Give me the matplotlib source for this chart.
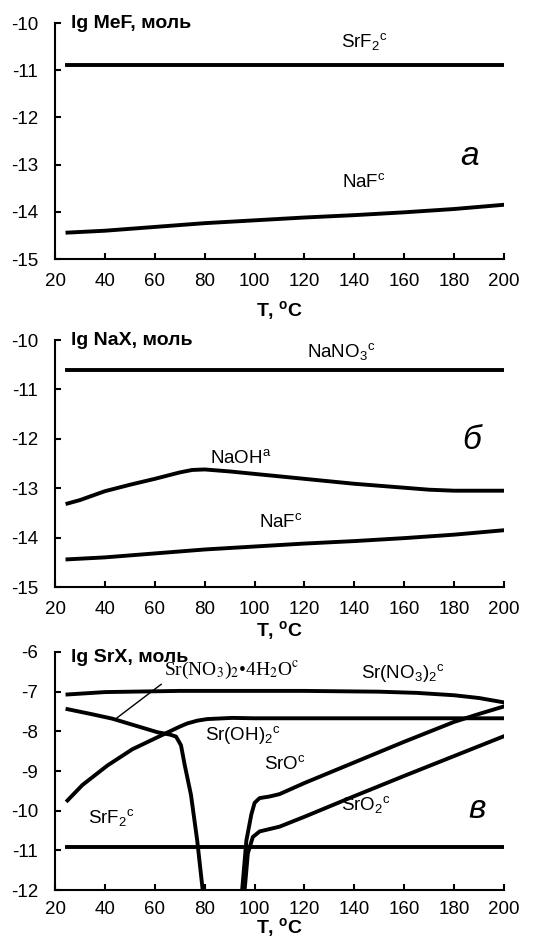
import numpy as np
import matplotlib
matplotlib.use('Agg')
import matplotlib.pyplot as plt

##############################
#    data
##############################
# panel a / b : NaF and constant SrF2, NaNO3
t_naf = [25, 40, 60, 80, 100, 120, 140, 160, 180, 200]
naf = [-14.44, -14.40, -14.32, -14.24, -14.18, -14.12, -14.07, -14.01, -13.94, -13.85]

t_const = [25, 200]
srf2 = [-10.9, -10.9]
nano3 = [-10.6, -10.6]

t_naoh = [25, 30, 40, 50, 60, 70, 75, 80, 90, 100, 120, 140, 160, 170, 180, 190, 200]
naoh = [-13.31, -13.24, -13.06, -12.93, -12.81, -12.68, -12.63, -12.62, -12.66, -12.71,
        -12.81, -12.91, -12.99, -13.03, -13.05, -13.05, -13.05]

# panel c
t_srno3 = [25, 40, 70, 120, 150, 165, 180, 190, 200]
srno3 = [-7.07, -7.01, -6.98, -6.98, -7.00, -7.03, -7.09, -7.16, -7.27]

t_srno3h = [25, 35, 43, 52, 61, 66, 68.5, 70.5, 72, 74.5, 77, 79.2]
srno3h = [-7.44, -7.57, -7.68, -7.85, -8.02, -8.08, -8.13, -8.35, -8.85, -9.6, -10.75, -12.0]

t_sroh = [25, 31, 41, 51, 61, 66, 70, 73, 77, 81, 91, 100, 200]
sroh = [-9.74, -9.35, -8.86, -8.45, -8.15, -8.0, -7.88, -7.80, -7.73, -7.69, -7.66, -7.67, -7.67]

t_sro = [95, 96.7, 98.7, 100, 102, 106, 110, 120, 140, 160, 180, 190, 200]
sro = [-12.0, -10.75, -10.09, -9.8, -9.68, -9.64, -9.58, -9.3, -8.78, -8.26, -7.76, -7.56, -7.37]

t_sro2 = [96, 97.3, 99.3, 102, 106, 110, 120, 140, 160, 180, 200]
sro2 = [-12.0, -11.07, -10.66, -10.52, -10.46, -10.4, -10.15, -9.63, -9.12, -8.62, -8.12]

xticks = list(range(20, 201, 20))

##############################
#    style
##############################
plt.rcParams['font.family'] = ['Liberation Sans', 'DejaVu Sans']
plt.rcParams['axes.unicode_minus'] = False
plt.rcParams['mathtext.fontset'] = 'custom'
plt.rcParams['mathtext.rm'] = 'Liberation Sans'
plt.rcParams['mathtext.it'] = 'Liberation Sans:italic'
plt.rcParams['mathtext.bf'] = 'Liberation Sans:bold'
fs_tick = 13.5
fs_lab = 14
fs_sp = 13.5
lw = 2.8

fig = plt.figure(figsize=(5.34, 9.43), dpi=100)
left, width = 0.103, 0.841
ax_a = fig.add_axes([left, 0.7253, width, 0.2503])
ax_b = fig.add_axes([left, 0.3775, width, 0.2619])
ax_c = fig.add_axes([left, 0.0560, width, 0.2526])


def style(ax, ylim, yticks, ylabel, ylab_y, xlab_y, xpad=10):
    ax.set_xlim(20, 200)
    ax.set_ylim(*ylim)
    ax.set_xticks(xticks)
    ax.set_yticks(yticks)
    for s in ['top', 'right']:
        ax.spines[s].set_visible(False)
    for s in ['left', 'bottom']:
        ax.spines[s].set_linewidth(1.5)
    ax.tick_params(direction='in', length=4, width=1.5, labelsize=fs_tick)
    ax.tick_params(axis='x', pad=xpad)
    ax.tick_params(axis='y', pad=12)
    ax.text(0.035, ylab_y, ylabel, transform=ax.transAxes, fontsize=fs_lab,
            fontweight='bold', ha='left', va='center')
    ax.text(0.5, xlab_y, r'T, $^\mathbf{o}$C', transform=ax.transAxes, fontsize=fs_lab,
            fontweight='bold', ha='center', va='center')


# panel a
ax_a.plot(t_const, srf2, color='black', lw=lw)
ax_a.plot(t_naf, naf, color='black', lw=lw)
style(ax_a, (-15, -10), range(-15, -9), 'lg MeF, моль', 1.0, -0.22)
ax_a.text(144, -10.4, r'SrF$_2$$^\mathrm{c}$', fontsize=fs_sp, ha='center', va='center')
ax_a.text(144, -13.36, r'NaF$^\mathrm{c}$', fontsize=fs_sp, ha='center', va='center')
ax_a.text(186, -12.83, 'а', fontsize=24, style='italic', ha='center', va='center')

# panel b
ax_b.plot(t_const, nano3, color='black', lw=lw)
ax_b.plot(t_naoh, naoh, color='black', lw=lw)
ax_b.plot(t_naf, naf, color='black', lw=lw)
style(ax_b, (-15, -10), range(-15, -9), 'lg NaX, моль', 1.0, -0.175)
ax_b.text(134.7, -10.23, r'NaNO$_3$$^\mathrm{c}$', fontsize=fs_sp, ha='center', va='center')
ax_b.text(94.6, -12.38, r'NaOH$^\mathrm{a}$', fontsize=fs_sp, ha='center', va='center')
ax_b.text(110.6, -13.68, r'NaF$^\mathrm{c}$', fontsize=fs_sp, ha='center', va='center')
ax_b.text(187, -12.04, 'б', fontsize=24, style='italic', ha='center', va='center')

# panel c
for t, v in [(t_srno3, srno3), (t_srno3h, srno3h), (t_sroh, sroh),
             (t_sro, sro), (t_sro2, sro2), (t_const, srf2)]:
    ax_c.plot(t, v, color='black', lw=lw)
style(ax_c, (-12, -6), range(-12, -5), 'lg SrX, моль', 0.975, -0.158, xpad=8)
ax_c.annotate(r'Sr(NO$_3$)$_2$•4H$_2$O$^\mathrm{c}$', xy=(44, -7.70), xytext=(90.7, -6.47),
              fontsize=14, family='Liberation Serif', math_fontfamily='stix',
              ha='center', va='center',
              arrowprops=dict(arrowstyle='-', lw=1, color='black', shrinkA=0, shrinkB=0,
                              relpos=(0.03, 0.1)))
ax_c.text(159.3, -6.52, r'Sr(NO$_3$)$_2$$^\mathrm{c}$', fontsize=fs_sp, ha='center', va='center')
ax_c.text(95.3, -8.08, r'Sr(OH)$_2$$^\mathrm{c}$', fontsize=fs_sp, ha='center', va='center')
ax_c.text(112, -8.82, r'SrO$^\mathrm{c}$', fontsize=fs_sp, ha='center', va='center')
ax_c.text(144.7, -9.84, r'SrO$_2$$^\mathrm{c}$', fontsize=fs_sp, ha='center', va='center')
ax_c.text(42.7, -10.17, r'SrF$_2$$^\mathrm{c}$', fontsize=fs_sp, ha='center', va='center')
ax_c.text(189, -9.97, 'в', fontsize=24, style='italic', ha='center', va='center')

plt.savefig('out.png', dpi=100)
